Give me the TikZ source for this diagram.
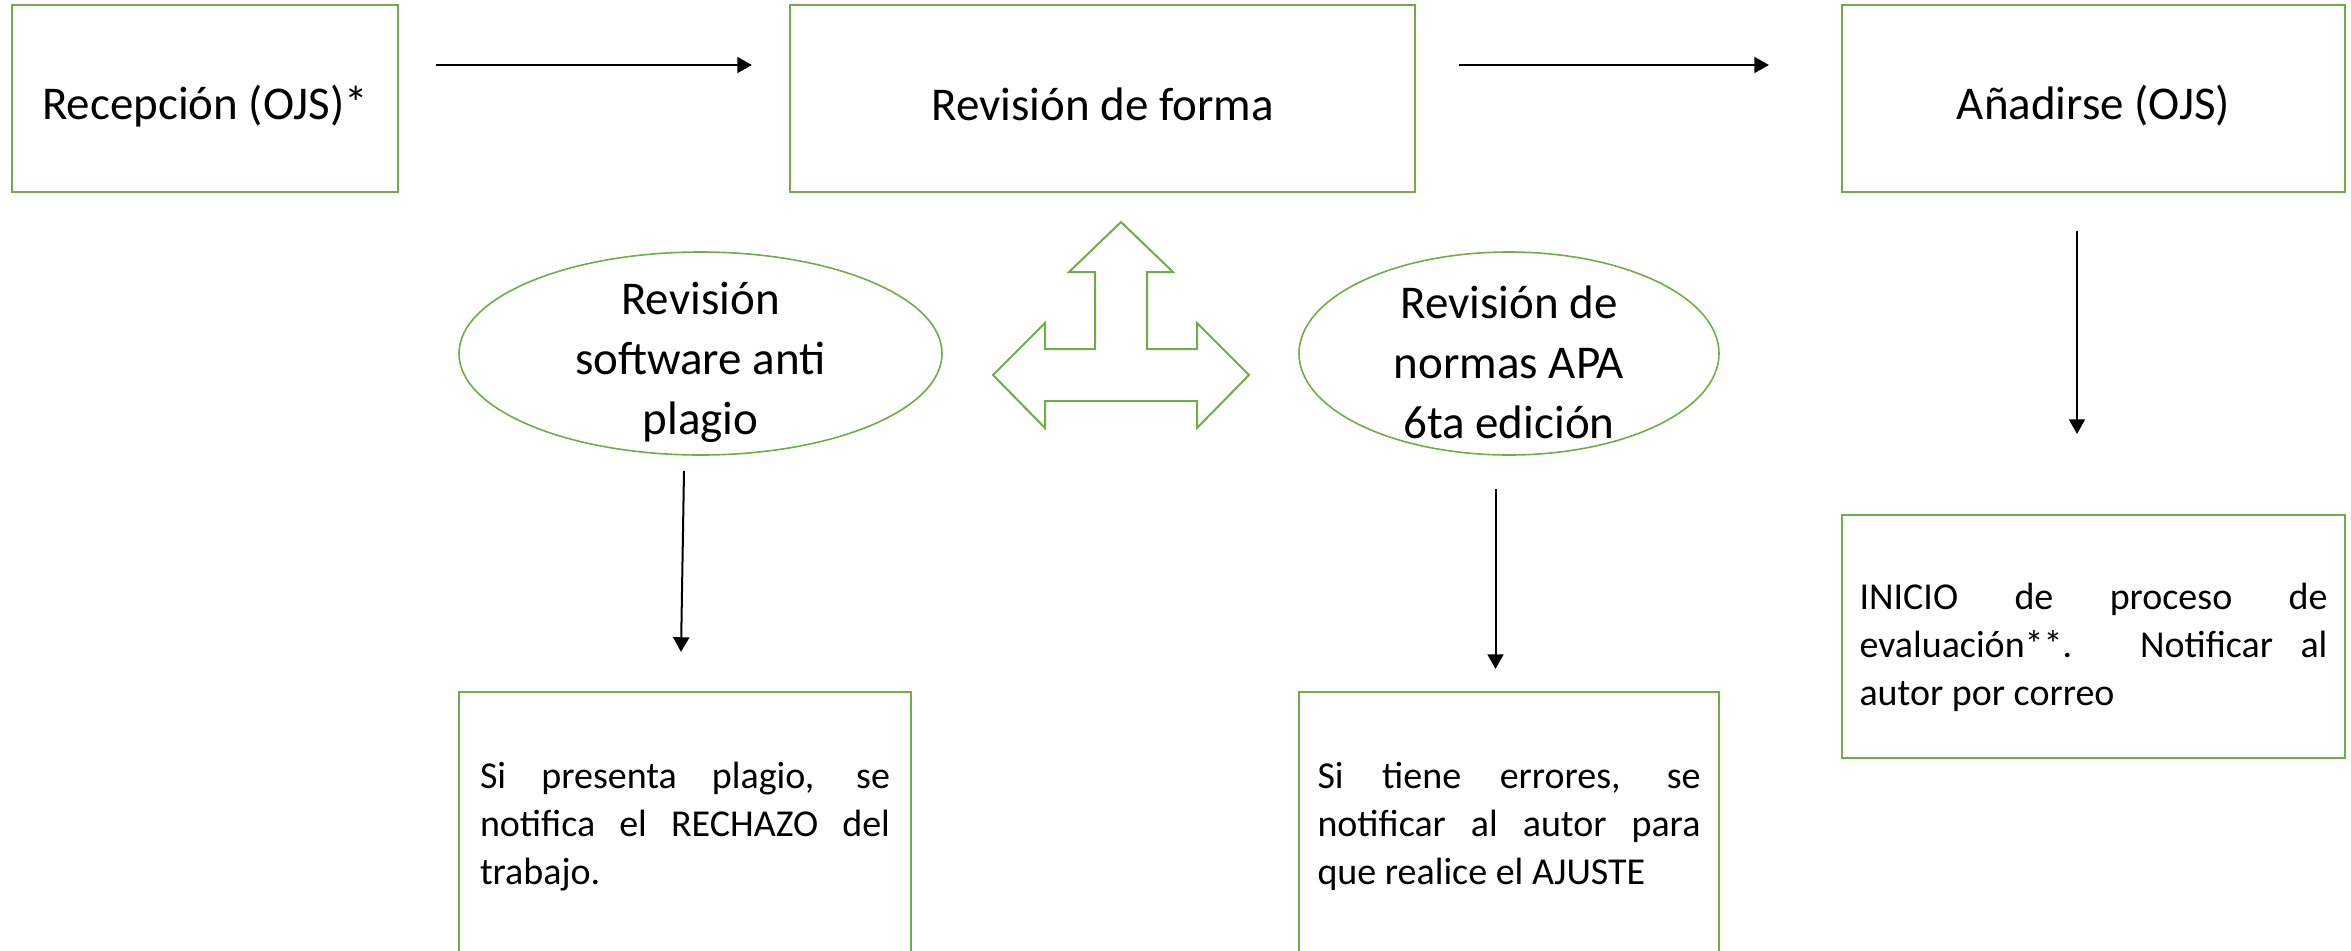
\documentclass[tikz,border=0pt]{standalone}
\usepackage{fontspec}
\setmainfont{Carlito}
\usetikzlibrary{shapes.geometric,arrows.meta,calc}
\setlength{\parindent}{0pt}
\definecolor{ogreen}{HTML}{70AD47}
\begin{document}
\begin{tikzpicture}[x=0.75pt,y=-0.75pt,
  gbox/.style={draw=ogreen,line width=1.6pt,rectangle,inner sep=0pt,minimum height=140.25pt},
  btext/.style={inner sep=0pt,font=\fontsize{35.25}{43}\selectfont},
  tbox/.style={draw=ogreen,line width=1.6pt,rectangle,inner sep=0pt},
  ttext/.style={inner sep=0pt,align=justify,font=\fontsize{28.5}{36}\selectfont},
  gell/.style={draw=ogreen,line width=1.2pt,ellipse,inner sep=0pt,minimum height=152.25pt},
  etext/.style={align=center,inner sep=0pt,font=\fontsize{35.25}{45}\selectfont},
  arr/.style={-{Triangle[length=11pt,width=12pt]},line width=1.5pt,black},
  bigarrow/.style={draw=ogreen,line width=1.5pt,line join=miter}
]
\useasboundingbox (0,0) rectangle (2351,950);

% top boxes
\node[gbox,minimum width=289.5pt] (b1) at (205,98.5) {};
\node[btext] (b1t) at ($(b1.center)+(0,7.5)$) {Recepción (OJS)*};
\node[gbox,minimum width=468.75pt] (b2) at (1102.5,98.5) {};
\node[btext] (b2t) at ($(b2.center)+(0,6)$) {Revisión de forma};
\node[gbox,minimum width=377.25pt] (b3) at (2093.5,98.5) {};
\node[btext] (b3t) at ($(b3.center)+(0,7.5)$) {Añadirse (OJS)};

% ellipses
\node[gell,minimum width=362.25pt] (e1) at (700.5,353.5) {};
\node[etext] (e1t) at ($(e1.center)+(0,9)$) {Revisión\\software anti\\plagio};
\node[gell,minimum width=315pt] (e2) at (1509,353.5) {};
\node[etext] (e2t) at ($(e2.center)+(0,9)$) {Revisión de\\normas APA\\6ta edición};

% lower boxes
\node[tbox,minimum width=339pt,minimum height=197.25pt] (bl) at (685,823.5) {};
\node[ttext,text width=307.5pt] (blt) at ($(bl.center)+(0,3)$)
  {Si presenta plagio, se\linebreak notifica el RECHAZO del\linebreak trabajo.};
\node[tbox,minimum width=315pt,minimum height=197.25pt] (bm) at (1509,823.5) {};
\node[ttext,text width=287.25pt] (bmt) at ($(bm.center)+(0,3)$)
  {Si tiene errores, se\linebreak notificar al autor para\linebreak que realice el AJUSTE};
\node[tbox,minimum width=377.25pt,minimum height=182.25pt] (br) at (2093.5,636.5) {};
\node[ttext,text width=351pt] (brt) at ($(br.center)+(0,10.5)$)
  {INICIO de proceso de\linebreak evaluación**. Notificar al\linebreak autor por correo};

% connectors
\draw[arr] ($(b1.east)+(37,-33.5)$) -- ($(b2.west)+(-37,-33.5)$);
\draw[arr] ($(b2.east)+(43,-33.5)$) -- ($(b3.west)+(-72,-33.5)$);
\draw[arr] ($(b3.south)+(-16.5,38)$) -- ($(br.north)+(-16.5,-80)$);
\draw[arr] ($(e1.south)+(-16.5,15)$) -- ($(bl.north)+(-4,-39)$);
\draw[arr] ($(e2.south)+(-13.5,33)$) -- ($(bm.north)+(-13.5,-22)$);

% four-way arrow
\draw[bigarrow] (1121,222) -- (1173,272) -- (1147,272) -- (1147,349) -- (1197,349) -- (1197,323)
  -- (1249,375) -- (1197,428) -- (1197,401) -- (1045,401) -- (1045,428) -- (993,375)
  -- (1045,323) -- (1045,349) -- (1095,349) -- (1095,272) -- (1069,272) -- cycle;
\end{tikzpicture}
\end{document}
